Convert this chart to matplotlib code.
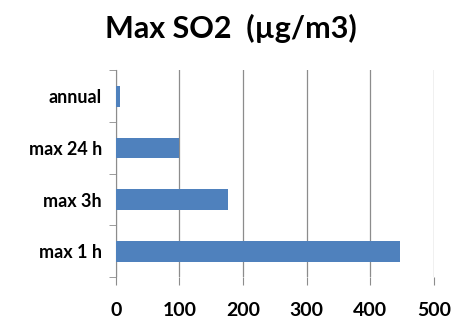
import matplotlib
matplotlib.use("Agg")
import matplotlib.pyplot as plt

# Data
categories = ["max 1 h", "max 3h", "max 24 h", "annual"]
values = [446, 176, 100, 6]
x_ticks = [0, 100, 200, 300, 400, 500]

plt.rcParams["font.family"] = ["Lato", "DejaVu Sans"]

fig = plt.figure(figsize=(4.52, 3.2), dpi=100)
ax = fig.add_axes([0.256, 0.134, 0.704, 0.646])

ax.barh(range(len(categories)), values, height=0.4, color="#4F81BD", zorder=3)

ax.set_xlim(0, 500)
ax.set_ylim(-0.5, len(categories) - 0.5)
ax.set_xticks(x_ticks)
ax.set_xticklabels([str(t) for t in x_ticks], fontsize=14, fontweight="bold")
ax.set_yticks(range(len(categories)))
ax.set_yticklabels(categories, fontsize=13, fontweight="bold")

# category boundary tick marks like Excel
ax.set_yticks([i - 0.5 for i in range(len(categories) + 1)], minor=True)
ax.tick_params(axis="y", which="major", length=0, pad=10)
ax.tick_params(axis="y", which="minor", length=5, color="#8c8c8c", direction="out")
ax.tick_params(axis="x", length=6, color="#8c8c8c", pad=12)

# vertical gridlines
ax.grid(axis="x", color="#8c8c8c", linewidth=0.9, zorder=0)

for side in ["top", "right", "bottom"]:
    ax.spines[side].set_visible(False)
ax.spines["left"].set_color("#8c8c8c")

fig.text(0.51, 0.912, "Max SO2  (µg/m3)", ha="center", va="center",
         fontsize=22, fontweight="bold")

fig.savefig("out.png", dpi=100)
